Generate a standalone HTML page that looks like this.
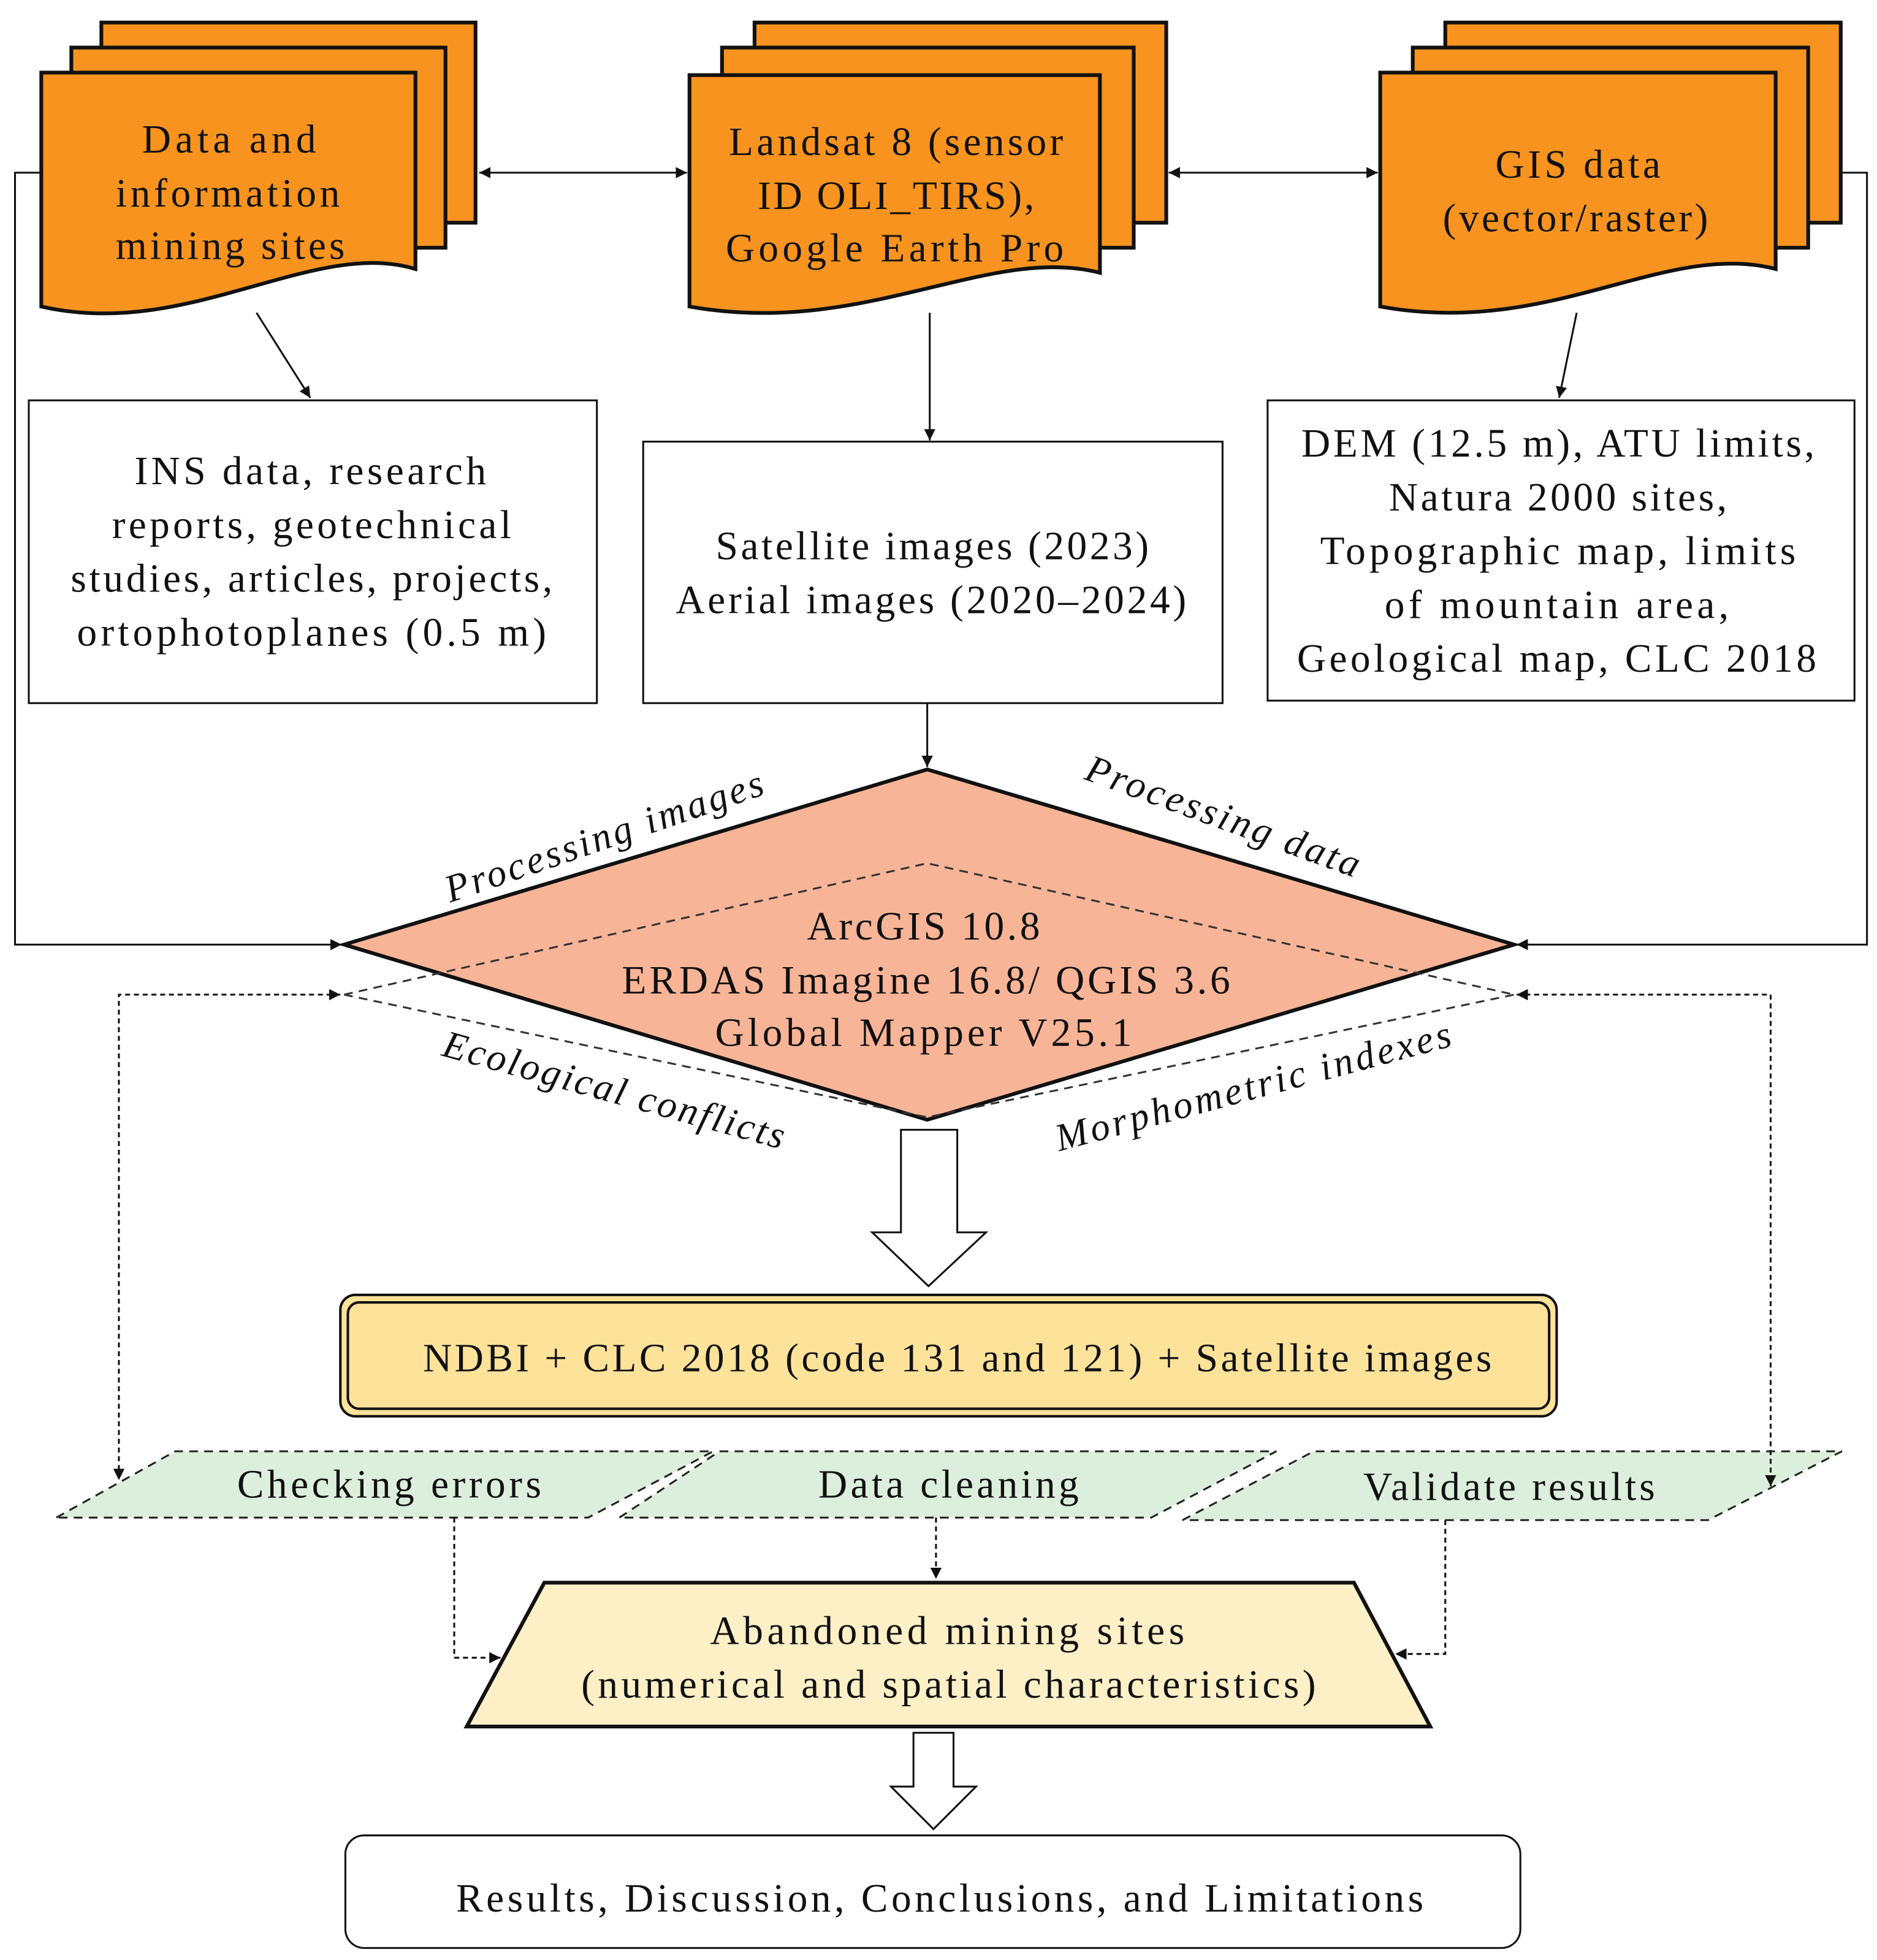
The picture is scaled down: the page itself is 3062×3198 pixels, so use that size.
<!DOCTYPE html>
<html><head><meta charset="utf-8"><style>
html,body{margin:0;padding:0;background:#fff;}
svg{display:block;}
text{font-family:"Liberation Serif",serif;fill:#111;}
</style></head><body>
<svg width="3062" height="3198" viewBox="0 0 1500 1566.6" xmlns="http://www.w3.org/2000/svg">
<defs>
<marker id="a" viewBox="0 0 10 10" refX="10" refY="5" markerWidth="9" markerHeight="9" markerUnits="userSpaceOnUse" orient="auto-start-reverse"><path d="M0,0 L10,5 L0,10 z" fill="#111"/></marker>
</defs>
<rect width="1500" height="1567" fill="#fff"/>

<polyline points="33,138 12,138 12,755 273,755" fill="none" stroke="#111" stroke-width="1.5" marker-end="url(#a)"/>
<polyline points="1471,138 1492,138 1492,755 1212,755" fill="none" stroke="#111" stroke-width="1.5" marker-end="url(#a)"/>

<g stroke="#111" stroke-width="3" fill="#f7931e">
<rect x="81" y="18" width="299" height="160"/>
<rect x="57" y="38" width="299" height="160"/>
<path d="M33,58 H332 V215 C250,190 150,272 33,245 Z"/>
<rect x="603" y="18" width="329" height="160"/>
<rect x="577" y="38" width="329" height="160"/>
<path d="M551,60 H879 V218 C790,195 690,270 551,245 Z"/>
<rect x="1155" y="18" width="316" height="160"/>
<rect x="1129" y="38" width="316" height="160"/>
<path d="M1103,58 H1419 V215 C1330,192 1240,270 1103,245 Z"/>
</g>
<g font-size="32" text-anchor="middle" lengthAdjust="spacing">
<text x="183" y="122" textLength="139" lengthAdjust="spacing">Data and</text>
<text x="182" y="165" textLength="179" lengthAdjust="spacing">information</text>
<text x="184" y="207" textLength="183" lengthAdjust="spacing">mining sites</text>
<text x="716" y="124" textLength="267" lengthAdjust="spacing">Landsat 8 (sensor</text>
<text x="716" y="167" textLength="221" lengthAdjust="spacing">ID OLI_TIRS),</text>
<text x="715" y="209" textLength="270" lengthAdjust="spacing">Google Earth Pro</text>
<text x="1261" y="142" textLength="132" lengthAdjust="spacing">GIS data</text>
<text x="1259" y="185" textLength="212" lengthAdjust="spacing">(vector/raster)</text>
</g>

<g stroke="#111" stroke-width="1.5" fill="none">
<line x1="383" y1="138" x2="549" y2="138" marker-start="url(#a)" marker-end="url(#a)"/>
<line x1="934" y1="138" x2="1101" y2="138" marker-start="url(#a)" marker-end="url(#a)"/>
<line x1="205" y1="250" x2="248" y2="318" marker-end="url(#a)"/>
<line x1="743" y1="250" x2="743" y2="352" marker-end="url(#a)"/>
<line x1="1260" y1="250" x2="1246" y2="318" marker-end="url(#a)"/>
<line x1="741" y1="562" x2="741" y2="613" marker-end="url(#a)"/>
</g>

<g stroke="#111" stroke-width="1.5" fill="#fff">
<rect x="23" y="320" width="454" height="242"/>
<rect x="514" y="353" width="463" height="209"/>
<rect x="1013" y="320" width="469" height="240"/>
</g>
<g font-size="32" text-anchor="middle">
<text x="248" y="387" textLength="281" lengthAdjust="spacing">INS data, research</text>
<text x="249" y="430" textLength="319" lengthAdjust="spacing">reports, geotechnical</text>
<text x="249" y="473" textLength="385" lengthAdjust="spacing">studies, articles, projects,</text>
<text x="249" y="516" textLength="375" lengthAdjust="spacing">ortophotoplanes (0.5 m)</text>
<text x="745" y="447" textLength="346" lengthAdjust="spacing">Satellite images (2023)</text>
<text x="744" y="490" textLength="408" lengthAdjust="spacing">Aerial images (2020–2024)</text>
<text x="1245" y="365" textLength="410" lengthAdjust="spacing">DEM (12.5 m), ATU limits,</text>
<text x="1245" y="408" textLength="270" lengthAdjust="spacing">Natura 2000 sites,</text>
<text x="1245" y="451" textLength="380" lengthAdjust="spacing">Topographic map, limits</text>
<text x="1244" y="494" textLength="275" lengthAdjust="spacing">of mountain area,</text>
<text x="1244" y="537" textLength="415" lengthAdjust="spacing">Geological map, CLC 2018</text>
</g>

<polygon points="741,615 1210,755 741,895 275,755" fill="#f8b497" stroke="#111" stroke-width="3"/>
<g stroke="#333" stroke-width="1.5" fill="none" stroke-dasharray="7,5">
<polyline points="275,795 741,690 1210,795"/>
<polyline points="275,795 741,893 1210,795"/>
</g>
<g font-size="32" text-anchor="middle">
<text x="738" y="751" textLength="186" lengthAdjust="spacing">ArcGIS 10.8</text>
<text x="740" y="794" textLength="486" lengthAdjust="spacing">ERDAS Imagine 16.8/ QGIS 3.6</text>
<text x="738" y="836" textLength="333" lengthAdjust="spacing">Global Mapper V25.1</text>
</g>
<g font-size="31" font-style="italic" text-anchor="middle">
<text transform="translate(486,678) rotate(-19)" textLength="267" lengthAdjust="spacing">Processing images</text>
<text transform="translate(974,662) rotate(20)" textLength="231" lengthAdjust="spacing">Processing data</text>
<text transform="translate(488,881) rotate(15.4)" textLength="282" lengthAdjust="spacing">Ecological conflicts</text>
<text transform="translate(1004,878) rotate(-15)" textLength="326" lengthAdjust="spacing">Morphometric indexes</text>
</g>

<polygon points="720,903 765,903 765,985 788,985 742,1028 697,985 720,985" fill="#fff" stroke="#111" stroke-width="1.5"/>

<rect x="272" y="1035" width="972" height="97" rx="12" fill="#fde29a" stroke="#111" stroke-width="2"/>
<rect x="278" y="1041" width="960" height="85" rx="9" fill="none" stroke="#111" stroke-width="2"/>
<text x="765" y="1096" font-size="32" text-anchor="middle" textLength="854" lengthAdjust="spacing">NDBI + CLC 2018 (code 131 and 121) + Satellite images</text>

<g fill="#dcefdc" stroke="#222" stroke-width="1.5" stroke-dasharray="7,5">
<polygon points="45,1213 140,1160 570,1160 470,1213"/>
<polygon points="495,1213 575,1160 1020,1160 920,1213"/>
<polygon points="945,1215 1050,1160 1472,1160 1365,1215"/>
</g>
<g font-size="32" text-anchor="middle">
<text x="311" y="1197" textLength="243" lengthAdjust="spacing">Checking errors</text>
<text x="758" y="1197" textLength="208" lengthAdjust="spacing">Data cleaning</text>
<text x="1206" y="1199" textLength="233" lengthAdjust="spacing">Validate results</text>
</g>

<g stroke="#111" stroke-width="1.5" fill="none" stroke-dasharray="4,3">
<polyline points="272,795 95,795 95,1183" marker-start="url(#a)" marker-end="url(#a)"/>
<polyline points="1212,795 1415,795 1415,1188" marker-start="url(#a)" marker-end="url(#a)"/>
<polyline points="363,1213 363,1325 400,1325" marker-end="url(#a)"/>
<polyline points="748,1213 748,1262" marker-end="url(#a)"/>
<polyline points="1155,1215 1155,1322 1115,1322" marker-end="url(#a)"/>
</g>

<polygon points="373,1380 435,1265 1082,1265 1143,1380" fill="#fdefc6" stroke="#111" stroke-width="3"/>
<g font-size="32" text-anchor="middle">
<text x="757" y="1314" textLength="379" lengthAdjust="spacing">Abandoned mining sites</text>
<text x="758" y="1357" textLength="587" lengthAdjust="spacing">(numerical and spatial characteristics)</text>
</g>

<polygon points="730,1385 762,1385 762,1428 780,1428 746,1462 712,1428 730,1428" fill="#fff" stroke="#111" stroke-width="1.5"/>

<rect x="276" y="1467" width="939" height="90" rx="15" fill="#fff" stroke="#111" stroke-width="1.5"/>
<text x="751" y="1528" font-size="32" text-anchor="middle" textLength="773" lengthAdjust="spacing">Results, Discussion, Conclusions, and Limitations</text>
</svg>
</body></html>
